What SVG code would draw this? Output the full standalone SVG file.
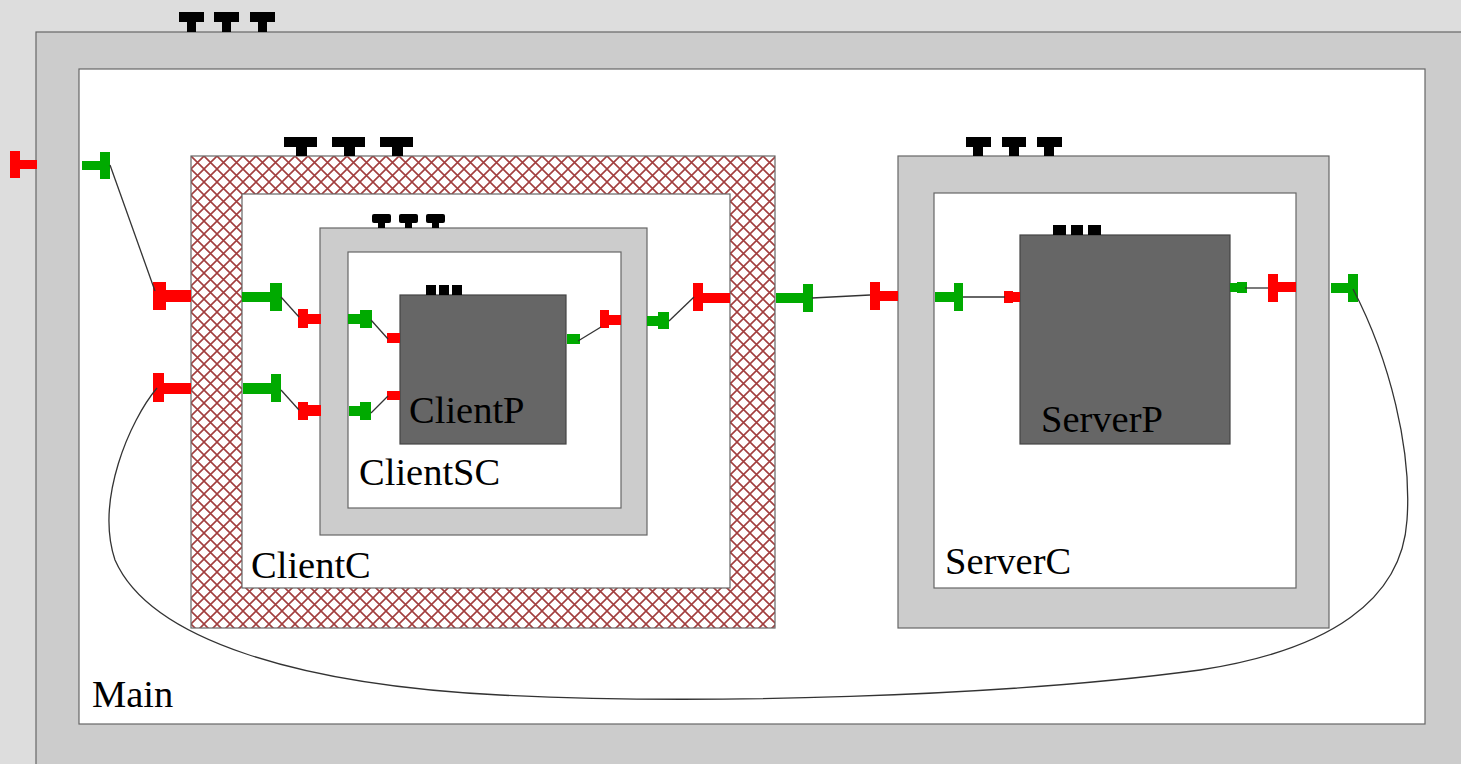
<svg xmlns="http://www.w3.org/2000/svg" width="1461" height="764" viewBox="0 0 1461 764">
  <style>
    .frame { fill: #cccccc; stroke: #666666; stroke-width: 1.2; }
    .body { fill: #ffffff; stroke: #666666; stroke-width: 1.2; }
    .prim { fill: #666666; stroke: #444444; stroke-width: 1.2; }
    .hatch { fill: url(#xhatch); stroke: #666666; stroke-width: 1.2; }
    .lbl { font-family: "Liberation Serif", "Times New Roman", serif; font-size: 38.5px; fill: #000000; }
    .req { fill: #ff0000; }
    .prov { fill: #00aa00; }
    .attr { fill: #000000; }
    .wire { fill: none; stroke: #333333; stroke-width: 1.3; }
  </style>
  <defs>
    <pattern id="xhatch" x="191" y="156" width="13" height="13" patternUnits="userSpaceOnUse">
      <rect width="13" height="13" fill="#ffffff"/>
      <path d="M0,0 L13,13 M13,0 L0,13" stroke="#8b0f0f" stroke-width="1.6" opacity="0.8"/>
    </pattern>
  </defs>

  <rect width="1461" height="764" fill="#dddddd"/>

  <!-- Main component -->
  <g id="Main">
    <rect class="frame" x="36" y="32" width="1440" height="745"/>
    <rect class="body" x="79" y="69" width="1346" height="655"/>
    <g class="attr">
      <rect x="179" y="12" width="25" height="10"/><rect x="187" y="21" width="9" height="11"/>
      <rect x="214" y="12" width="25" height="10"/><rect x="222" y="21" width="9" height="11"/>
      <rect x="250" y="12" width="25" height="10"/><rect x="258" y="21" width="9" height="11"/>
    </g>
    <text class="lbl" x="92" y="707">Main</text>
    <g class="req"><rect x="10" y="151" width="10" height="27"/><rect x="20" y="160" width="17" height="9"/></g>
    <g class="prov"><rect x="82" y="161" width="19" height="9"/><rect x="100" y="152" width="10" height="27"/></g>
  </g>

  <!-- ClientC component -->
  <g id="ClientC">
    <rect class="hatch" x="191" y="156" width="584" height="472"/>
    <rect class="body" x="242" y="194" width="488" height="394"/>
    <g class="attr">
      <rect x="284" y="137" width="33" height="10"/><rect x="296" y="146" width="11" height="10"/>
      <rect x="332" y="137" width="33" height="10"/><rect x="344" y="146" width="11" height="10"/>
      <rect x="380" y="137" width="33" height="10"/><rect x="392" y="146" width="11" height="10"/>
    </g>
    <text class="lbl" x="251" y="578">ClientC</text>
    <g class="req"><rect x="153" y="282" width="13" height="28"/><rect x="165" y="290" width="26" height="12"/></g>
    <g class="req"><rect x="153" y="373" width="11" height="29"/><rect x="163" y="383" width="28" height="11"/></g>
    <g class="prov"><rect x="242" y="292" width="29" height="10"/><rect x="270" y="283" width="12" height="28"/></g>
    <g class="prov"><rect x="243" y="383" width="29" height="11"/><rect x="271" y="374" width="10" height="28"/></g>
    <g class="req"><rect x="693" y="283" width="10" height="28"/><rect x="702" y="293" width="28" height="10"/></g>
    <g class="prov"><rect x="776" y="293" width="28" height="10"/><rect x="803" y="284" width="10" height="28"/></g>
  </g>

  <!-- ClientSC component -->
  <g id="ClientSC">
    <rect class="frame" x="320" y="228" width="327" height="307"/>
    <rect class="body" x="348" y="252" width="273" height="256"/>
    <g class="attr">
      <rect x="372" y="214" width="19" height="9" rx="2"/><rect x="378" y="222" width="7" height="6"/>
      <rect x="399" y="214" width="19" height="9" rx="2"/><rect x="405" y="222" width="7" height="6"/>
      <rect x="426" y="214" width="19" height="9" rx="2"/><rect x="432" y="222" width="7" height="6"/>
    </g>
    <text class="lbl" x="359" y="485">ClientSC</text>
    <g class="req"><rect x="298" y="309" width="10" height="19"/><rect x="307" y="314" width="14" height="10"/></g>
    <g class="req"><rect x="298" y="402" width="10" height="18"/><rect x="307" y="405" width="14" height="11"/></g>
    <g class="prov"><rect x="348" y="314" width="13" height="10"/><rect x="360" y="310" width="12" height="18"/></g>
    <g class="prov"><rect x="349" y="406" width="12" height="10"/><rect x="360" y="402" width="11" height="18"/></g>
    <g class="req"><rect x="600" y="310" width="9" height="18"/><rect x="608" y="315" width="13" height="10"/></g>
    <g class="prov"><rect x="647" y="316" width="12" height="10"/><rect x="658" y="312" width="11" height="17"/></g>
  </g>

  <!-- ClientP component -->
  <g id="ClientP">
    <rect class="prim" x="400" y="295" width="166" height="149"/>
    <g class="attr">
      <rect x="426" y="285" width="10" height="10"/>
      <rect x="439" y="285" width="10" height="10"/>
      <rect x="452" y="285" width="10" height="10"/>
    </g>
    <text class="lbl" x="409" y="423">ClientP</text>
    <rect class="req" x="387" y="333" width="13" height="10"/>
    <rect class="req" x="387" y="391" width="13" height="9"/>
    <rect class="prov" x="567" y="334" width="13" height="10"/>
  </g>

  <!-- ServerC component -->
  <g id="ServerC">
    <rect class="frame" x="898" y="156" width="431" height="472"/>
    <rect class="body" x="934" y="193" width="362" height="395"/>
    <g class="attr">
      <rect x="966" y="137" width="25" height="10"/><rect x="973" y="146" width="10" height="10"/>
      <rect x="1002" y="137" width="24" height="10"/><rect x="1009" y="146" width="10" height="10"/>
      <rect x="1037" y="137" width="25" height="10"/><rect x="1044" y="146" width="10" height="10"/>
    </g>
    <text class="lbl" x="945" y="574">ServerC</text>
    <g class="req"><rect x="870" y="282" width="10" height="28"/><rect x="879" y="291" width="19" height="10"/></g>
    <g class="prov"><rect x="935" y="292" width="20" height="10"/><rect x="954" y="283" width="9" height="28"/></g>
    <g class="req"><rect x="1268" y="274" width="10" height="28"/><rect x="1277" y="282" width="19" height="10"/></g>
    <g class="prov"><rect x="1331" y="283" width="18" height="10"/><rect x="1348" y="274" width="10" height="28"/></g>
  </g>

  <!-- ServerP component -->
  <g id="ServerP">
    <rect class="prim" x="1020" y="235" width="210" height="209"/>
    <g class="attr">
      <rect x="1053" y="225" width="13" height="10"/>
      <rect x="1071" y="225" width="12" height="10"/>
      <rect x="1088" y="225" width="13" height="10"/>
    </g>
    <text class="lbl" x="1041" y="432">ServerP</text>
    <g class="req"><rect x="1004" y="291" width="9" height="12"/><rect x="1012" y="292" width="8" height="10"/></g>
    <g class="prov"><rect x="1230" y="283" width="8" height="9"/><rect x="1237" y="282" width="10" height="11"/></g>
  </g>

  <!-- connectors -->
  <g id="connectors" class="wire">
    <path d="M110,165 L155,291"/>
    <path d="M281,297 L299,317"/>
    <path d="M371,320 L388,339"/>
    <path d="M281,390 L299,410"/>
    <path d="M371,413 L388,396"/>
    <path d="M578,341 L601,327"/>
    <path d="M669,321 L694,297"/>
    <path d="M812,298 L870,295"/>
    <path d="M963,297 L1005,297"/>
    <path d="M1245,288 L1268,288"/>
    <path d="M1353,289 C1390,360 1412,450 1407,520 C1402,600 1330,650 1200,670 C1000,697 700,705 500,695 C300,685 150,640 115,560 C95,500 130,420 157,388"/>
  </g>
</svg>
